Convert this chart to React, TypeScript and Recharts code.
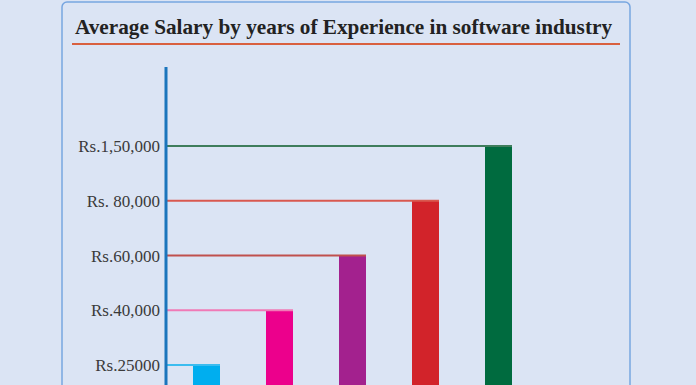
import { Bar, BarChart, XAxis, YAxis } from "recharts";

const experience = ["0-1 yrs", "1-3 yrs", "3-5 yrs", "5-8 yrs", "8+ yrs"];
const salaries = [25000, 40000, 60000, 80000, 150000];
const salaryTicks = [25000, 40000, 60000, 80000, 150000];
const tickLabels = ["Rs.25000", "Rs.40,000", "Rs.60,000", "Rs. 80,000", "Rs.1,50,000"];
const barColors = ["#00aeef", "#ec008c", "#a3218e", "#d2232a", "#006b3f"];
const lineColors = ["#3bbcef", "#f07ab6", "#c0504d", "#d9584f", "#3f7d5c"];

const data = experience.map((exp, i) => ({ exp, salary: salaries[i] }));

const W = 696;
const H = 385;
const PLOT_LEFT = 166;
const BG = "#dbe4f4";

// ticks are spaced evenly on the original, so each salary sits on its tick's step
const level = (d: { salary: number }) => salaryTicks.indexOf(d.salary) + 1;

const BarWithLine = (props: any) => {
  const { x, y, width, height, index } = props;
  return (
    <g>
      <rect x={x} y={y} width={width} height={height} fill={barColors[index]} />
      <line x1={PLOT_LEFT} y1={y} x2={x + width} y2={y} stroke={lineColors[index]} strokeWidth={2} />
    </g>
  );
};

export default function App() {
  return (
    <div style={{ position: "absolute", left: 0, top: 0, width: W, height: H, background: BG, overflow: "hidden" }}>
      <svg width={W} height={H} style={{ position: "absolute", left: 0, top: 0 }}>
        <rect x={62} y={2} width={568} height={420} rx={5} fill={BG} stroke="#78a6e0" strokeWidth={1.5} />
        <text
          x={75}
          y={34}
          textLength={537}
          lengthAdjust="spacingAndGlyphs"
          fontFamily="Liberation Serif"
          fontWeight="bold"
          fontSize={22}
          fill="#222"
        >
          Average Salary by years of Experience in software industry
        </text>
        <line x1={72} y1={44} x2={620} y2={44} stroke="#d9603f" strokeWidth={2} />
      </svg>
      <div style={{ position: "absolute", left: 0, top: 0 }}>
        <BarChart width={W} height={H} data={data} margin={{ top: 67, right: 161, bottom: 0, left: 0 }}>
          <XAxis dataKey="exp" hide padding={{ left: 4, right: 0 }} />
          <YAxis
            type="number"
            width={166}
            domain={[0.635, 6.443]}
            allowDataOverflow
            ticks={[1, 2, 3, 4, 5]}
            tickFormatter={(v: number) => tickLabels[v - 1]}
            tickLine={false}
            tickSize={0}
            tickMargin={6}
            axisLine={{ stroke: "#1b75bc", strokeWidth: 3 }}
            tick={{ fontFamily: "Liberation Serif", fontSize: 17, fill: "#3a3a3a" }}
          />
          <Bar dataKey={level} barSize={27} shape={BarWithLine} isAnimationActive={false} />
        </BarChart>
      </div>
    </div>
  );
}
